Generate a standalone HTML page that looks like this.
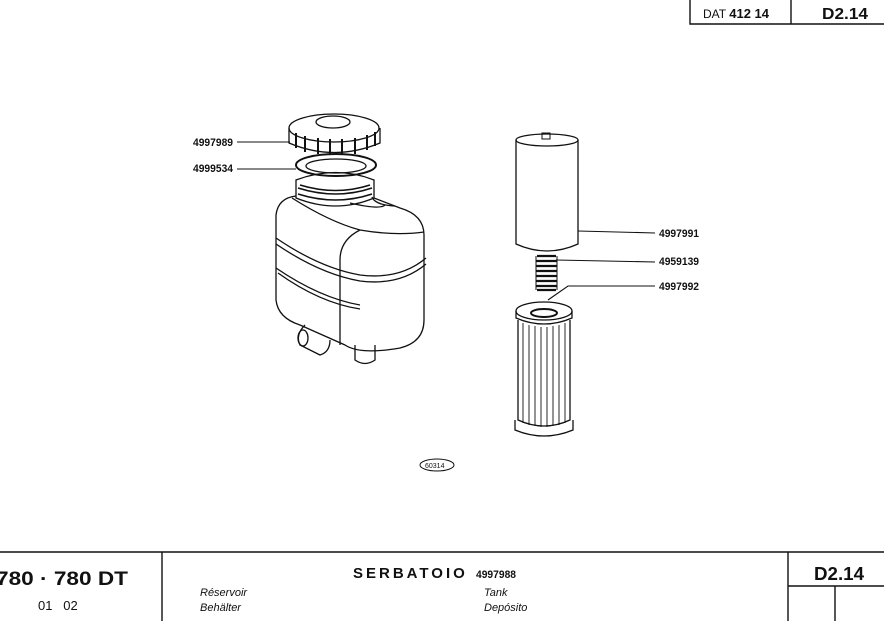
<!DOCTYPE html>
<html><head><meta charset="utf-8"><style>
html,body{margin:0;padding:0;background:#fff;width:884px;height:621px;overflow:hidden}
svg{display:block}
text{font-family:"Liberation Sans",sans-serif;fill:#111}
.n{font-size:11px;font-weight:bold}
</style></head><body>
<svg width="884" height="621" viewBox="0 0 884 621" xmlns="http://www.w3.org/2000/svg" fill="none" stroke="#111" stroke-width="1.3">
<path d="M690 0 V24 H884 M791 0 V24" stroke-width="1.4"/>
<text x="703" y="18" font-size="12" stroke="none">DAT <tspan font-weight="bold" font-size="13">412 14</tspan></text>
<text x="822" y="19" font-size="16" font-weight="bold" stroke="none" textLength="46" lengthAdjust="spacingAndGlyphs">D2.14</text>

<ellipse cx="334" cy="128" rx="45" ry="14"/>
<ellipse cx="333" cy="122" rx="17" ry="6"/>
<path d="M289 128 V143 Q334 162 380 143 V128"/>
<path d="M296 133 V148 M305 136 V152 M318 138 V154 M330 139 V155 M342 139 V155 M355 138 V154 M367 135 V150 M375 132 V146" stroke-width="2"/>
<ellipse cx="336" cy="165" rx="40" ry="11" stroke-width="2"/>
<ellipse cx="336" cy="166" rx="30" ry="7"/>
<path d="M296 180 Q336 165 374 180 V198 Q336 214 296 198 Z"/>
<path d="M298 188 Q336 200 372 188 M298 194 Q336 206 372 194 M300 185 Q336 196 370 185" stroke-width="1.6"/>
<path d="M296 196 Q278 198 276 215 V300 Q278 318 300 325 L345 345 Q360 355 400 348 Q424 342 424 320 V235 Q424 215 400 208 L374 198"/>
<path d="M292 198 Q330 222 360 230 Q395 236 424 232"/>
<path d="M360 230 Q340 240 340 260 V345"/>
<path d="M276 238 Q320 268 360 275 Q400 280 426 258 M276 244 Q320 274 360 281 Q400 286 426 264"/>
<path d="M276 268 Q320 298 360 305 M278 273 Q320 303 360 309"/>
<path d="M372 197 Q375 205 395 206 M350 203 Q380 210 385 205"/>
<path d="M305 325 Q295 335 300 345 L320 355 Q330 352 330 340"/>
<ellipse cx="303" cy="338" rx="5" ry="8"/>
<path d="M355 345 V360 Q365 367 375 360 V345"/>
<text class="n" x="193" y="146" stroke="none" textLength="40" lengthAdjust="spacingAndGlyphs">4997989</text>
<text class="n" x="193" y="172" stroke="none" textLength="40" lengthAdjust="spacingAndGlyphs">4999534</text>
<path d="M237 142 H290 M237 169 H296" stroke-width="1.1"/>

<ellipse cx="547" cy="140" rx="31" ry="6"/>
<path d="M516 140 V244 Q547 258 578 244 V140"/>
<rect x="542" y="133" width="8" height="6" stroke-width="1"/>
<path d="M537 256 H556 M536 261 H557 M536 266 H557 M536 271 H557 M536 276 H557 M536 281 H557 M536 286 H557 M537 290 H556" stroke-width="2.2"/>
<path d="M536 256 V290 M557 256 V290" stroke-width="1"/>
<ellipse cx="544" cy="311" rx="28" ry="9"/>
<ellipse cx="544" cy="313" rx="13" ry="4" stroke-width="2"/>
<path d="M516 311 V318 Q544 330 572 318 V311"/>
<path d="M518 320 V420 Q544 432 570 420 V320"/>
<path d="M515 420 V430 Q544 442 573 430 V420"/>
<path d="M523 323 V423 M529 325 V425 M535 326 V426 M541 327 V427 M547 327 V427 M553 326 V426 M559 325 V425 M565 323 V423" stroke-width="0.9"/>
<path d="M578 231 L655 233 M556 260 L655 262 M548 300 L568 286 H655" stroke-width="1.1"/>
<text class="n" x="659" y="237" stroke="none" textLength="40" lengthAdjust="spacingAndGlyphs">4997991</text>
<text class="n" x="659" y="265" stroke="none" textLength="40" lengthAdjust="spacingAndGlyphs">4959139</text>
<text class="n" x="659" y="290" stroke="none" textLength="40" lengthAdjust="spacingAndGlyphs">4997992</text>
<ellipse cx="437" cy="465" rx="17" ry="6" stroke-width="1"/>
<text x="425" y="468" font-size="7" stroke="none">60314</text>

<path d="M0 552 H884 M162 552 V621 M788 552 V621 M788 586 H884 M835 586 V621" stroke-width="1.4"/>
<text x="-4" y="585" font-size="19" font-weight="bold" stroke="none" textLength="132" lengthAdjust="spacingAndGlyphs">780 · 780 DT</text>
<text x="38" y="610" font-size="13" stroke="none">01&#160;&#160;&#160;02</text>
<text x="353" y="578" font-size="15" font-weight="bold" letter-spacing="3" stroke="none">SERBATOIO</text>
<text x="476" y="578" class="n" font-size="11" stroke="none" textLength="40" lengthAdjust="spacingAndGlyphs">4997988</text>
<text x="200" y="596" font-size="11" font-style="italic" stroke="none">Réservoir</text>
<text x="200" y="611" font-size="11" font-style="italic" stroke="none">Behälter</text>
<text x="484" y="596" font-size="11" font-style="italic" stroke="none">Tank</text>
<text x="484" y="611" font-size="11" font-style="italic" stroke="none">Depósito</text>
<text x="814" y="580" font-size="18" font-weight="bold" stroke="none" textLength="50" lengthAdjust="spacingAndGlyphs">D2.14</text>
</svg>
</body></html>
